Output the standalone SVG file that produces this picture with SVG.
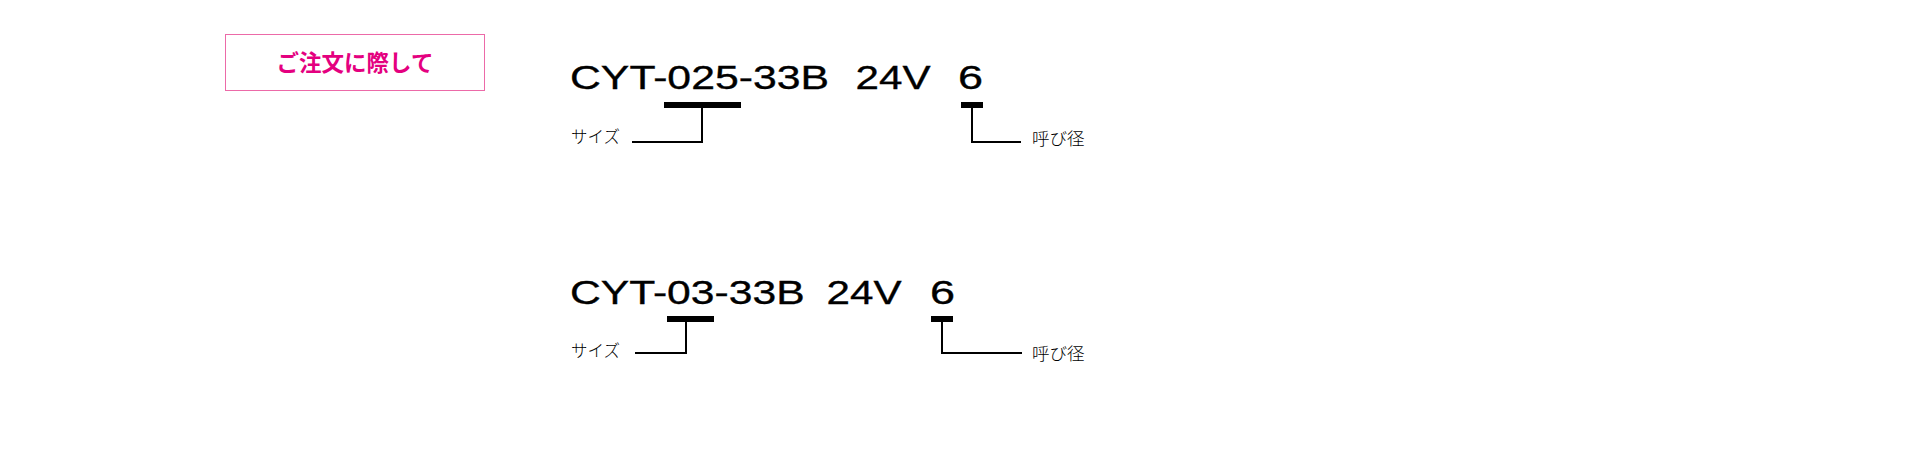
<svg xmlns="http://www.w3.org/2000/svg" width="1920" height="450" viewBox="0 0 1920 450">
<style>
.code{font-family:"Liberation Sans",Arial,sans-serif;font-size:34px;fill:#000;stroke:#000;stroke-width:0.35px}
.lbl{font-family:"Noto Sans CJK JP","Noto Sans",sans-serif;font-weight:300;fill:#000}
.bar{fill:#000}
.ln{stroke:#000;stroke-width:2;fill:none}
</style>
<rect width="1920" height="450" fill="#fff"/>
<g id="title">
<rect x="225.5" y="34.5" width="259" height="56" fill="#fff" stroke="#ec6aa8" stroke-width="1"/>
<text x="355" y="71" text-anchor="middle" font-family="'Noto Sans CJK JP',sans-serif" font-size="22.5" font-weight="bold" fill="#e4007f">ご注文に際して</text>
</g>
<g id="model1">
<text class="code" x="570" y="88.5" textLength="259" lengthAdjust="spacingAndGlyphs">CYT-025-33B</text>
<text class="code" x="855.5" y="88.5" textLength="75" lengthAdjust="spacingAndGlyphs">24V</text>
<text class="code" x="958" y="88.5" textLength="25" lengthAdjust="spacingAndGlyphs">6</text>
</g>
<g id="size1">
<rect class="bar" x="664" y="102" width="77" height="6"/>
<text class="lbl" x="571" y="143" font-size="16.5">サイズ</text>
</g>
<g id="bore1">
<rect class="bar" x="961" y="102" width="22" height="6"/>
<text class="lbl" x="1032" y="144.5" font-size="17.5">呼び径</text>
</g>
<g id="model2">
<text class="code" x="570" y="303.5" textLength="234.6" lengthAdjust="spacingAndGlyphs">CYT-03-33B</text>
<text class="code" x="826.5" y="303.5" textLength="75" lengthAdjust="spacingAndGlyphs">24V</text>
<text class="code" x="930" y="303.5" textLength="25" lengthAdjust="spacingAndGlyphs">6</text>
</g>
<g id="size2">
<rect class="bar" x="667" y="316" width="47" height="6"/>
<text class="lbl" x="571" y="357" font-size="16.5">サイズ</text>
</g>
<g id="bore2">
<rect class="bar" x="931" y="316" width="22" height="6"/>
<text class="lbl" x="1032" y="360" font-size="17.5">呼び径</text>
</g>
<g id="connectors">
<path class="ln" d="M702 108 V142 H632"/>
<path class="ln" d="M972 108 V142 H1021"/>
<path class="ln" d="M686 322 V353 H635"/>
<path class="ln" d="M942 322 V353 H1022"/>
</g>
</svg>
